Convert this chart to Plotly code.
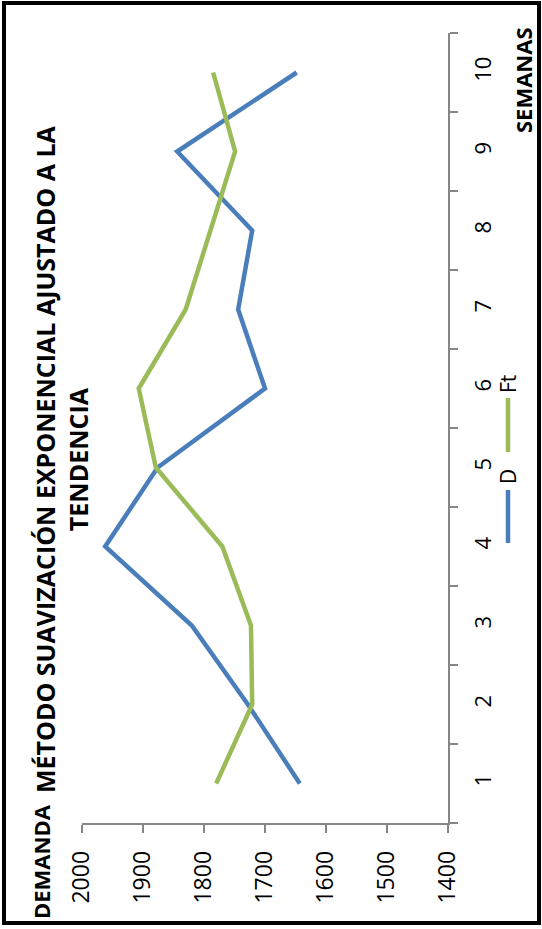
import plotly.graph_objects as go

semanas = [1, 2, 3, 4, 5, 6, 7, 8, 9, 10]
demanda_D = [1643, 1728, 1820, 1962, 1876, 1700, 1744, 1721, 1844, 1648]
pronostico_Ft = [1780, 1721, 1723, 1770, 1879, 1907, 1830, 1790, 1749, 1785]
value_ticks = [2000, 1900, 1800, 1700, 1600, 1500, 1400]
semana_labels = ["1", "2", "3", "4", "5", "6", "7", "8", "9", "10"]

title_lines = ["MÉTODO SUAVIZACIÓN EXPONENCIAL AJUSTADO A LA", "TENDENCIA"]
x_title = "DEMANDA"
y_title = "SEMANAS"
series_names = ["D", "Ft"]
colors = ["#4A7EBB", "#9BBB59"]

W, H = 542, 929
L, R, T, B = 82, 94, 33, 106
pw, ph = W - L - R, H - T - B


def px(x):
    return (x - L) / pw


def py(y):
    return (H - B - y) / ph


fig = go.Figure()
for name, vals, col in zip(series_names, [demanda_D, pronostico_Ft], colors):
    fig.add_trace(go.Scatter(x=vals, y=semanas, mode="lines", name=name,
                             line=dict(color=col, width=4.5), showlegend=False))

axis_col = "#868686"
fig.update_layout(
    width=W, height=H,
    margin=dict(l=L, r=R, t=T, b=B, pad=0),
    paper_bgcolor="white", plot_bgcolor="white",
    font=dict(family="Open Sans", color="black"),
    xaxis=dict(range=[2000, 1400], tickvals=value_ticks, ticktext=[str(v) for v in value_ticks],
               tickangle=-90, ticks="outside", ticklen=8, tickcolor=axis_col, tickwidth=1.5,
               showline=True, linecolor=axis_col, linewidth=1.5, showgrid=False, zeroline=False,
               tickfont=dict(size=23, family="Open Sans"), side="bottom", ticklabelstandoff=9),
    yaxis=dict(range=[0.5, 10.5], tickvals=semanas, ticktext=semana_labels, tickangle=-90,
               ticks="", side="right", showline=True, linecolor=axis_col, linewidth=1.5,
               showgrid=False, zeroline=False, tickfont=dict(size=22, family="Open Sans"),
               ticklabelstandoff=15,
               minor=dict(tickvals=[i + 0.5 for i in range(0, 11)], ticks="outside",
                          ticklen=8, tickcolor=axis_col, tickwidth=1.5, showgrid=False)),
)

ann = []
ann.append(dict(text="<br>".join(title_lines), xref="paper", yref="paper",
                x=px(61), y=py(459), xanchor="center", yanchor="middle", textangle=-90,
                showarrow=False, font=dict(size=25, family="Open Sans", color="black", weight="bold")))
ann.append(dict(text=x_title, xref="paper", yref="paper", x=px(41), y=py(862),
                xanchor="center", yanchor="middle", textangle=-90, showarrow=False,
                font=dict(size=22, family="Open Sans", weight="bold")))
ann.append(dict(text=y_title, xref="paper", yref="paper", x=px(523), y=py(80),
                xanchor="center", yanchor="middle", textangle=-90, showarrow=False,
                font=dict(size=22, family="Open Sans", weight="bold")))
# legend (rotated)
leg = [(series_names[0], colors[0], 543, 490, 477), (series_names[1], colors[1], 452, 398, 384)]
shapes = []
for name, col, yb, yt, ytext in leg:
    shapes.append(dict(type="line", xref="paper", yref="paper", x0=px(508), x1=px(508),
                       y0=py(yb), y1=py(yt), line=dict(color=col, width=4.5)))
    ann.append(dict(text=name, xref="paper", yref="paper", x=px(508), y=py(ytext),
                    xanchor="center", yanchor="middle", textangle=-90, showarrow=False,
                    font=dict(size=21, family="Open Sans")))
shapes.append(dict(type="rect", xref="paper", yref="paper", x0=px(4), x1=px(539),
                   y0=py(923), y1=py(3), line=dict(color="black", width=4)))
fig.update_layout(annotations=ann, shapes=shapes)

fig.write_html("out.html", config={"displayModeBar": False},
               post_script="document.body.style.margin='0';document.body.style.overflow='hidden';")
